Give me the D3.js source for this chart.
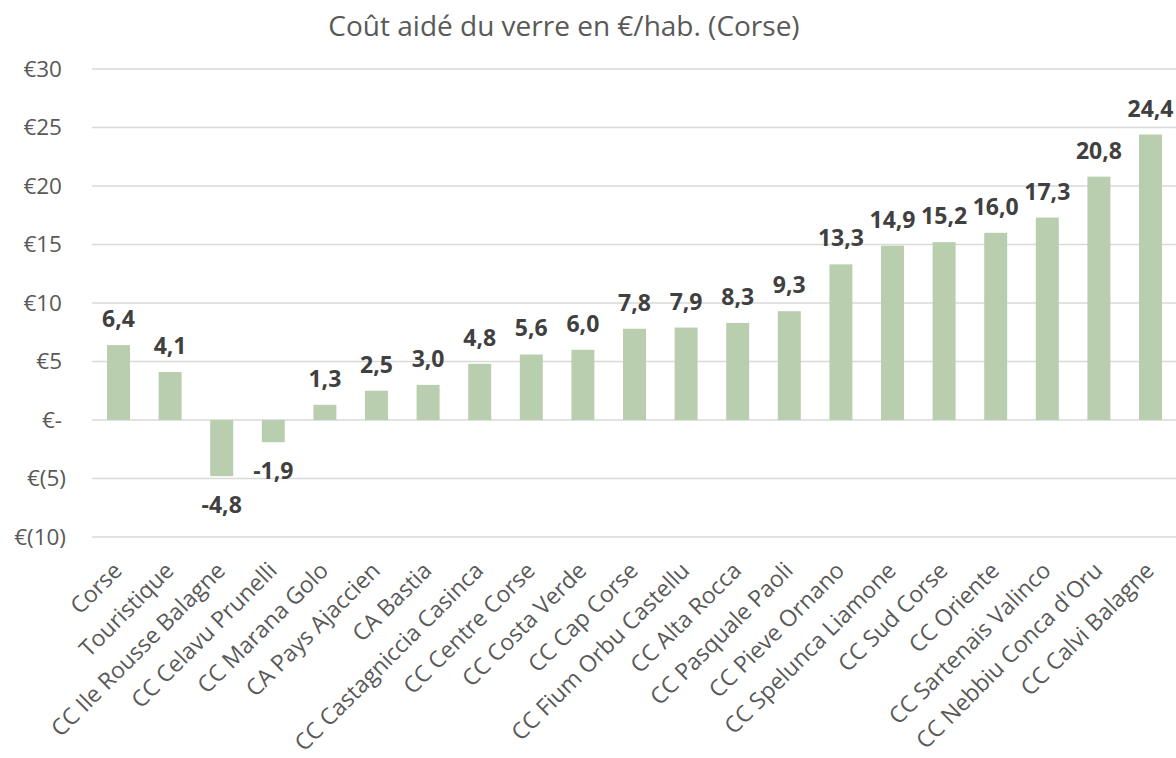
<!DOCTYPE html>
<html>
<head>
<meta charset="utf-8">
<script src="https://cdn.jsdelivr.net/npm/d3@7"></script>
<style>
  body { margin: 0; background: #fff; }
  svg text { font-family: "Open Sans", sans-serif; }
</style>
</head>
<body>
<div id="chart"></div>
<script>
const categories = [
    "Corse", "Touristique", "CC Ile Rousse Balagne", "CC Celavu Prunelli",
    "CC Marana Golo", "CA Pays Ajaccien", "CA Bastia", "CC Castagniccia Casinca",
    "CC Centre Corse", "CC Costa Verde", "CC Cap Corse", "CC Fium Orbu Castellu",
    "CC Alta Rocca", "CC Pasquale Paoli", "CC Pieve Ornano", "CC Spelunca Liamone",
    "CC Sud Corse", "CC Oriente", "CC Sartenais Valinco", "CC Nebbiu Conca d'Oru",
    "CC Calvi Balagne"
];
const values = [6.4, 4.1, -4.8, -1.9, 1.3, 2.5, 3.0, 4.8, 5.6, 6.0, 7.8, 7.9, 8.3, 9.3,
    13.3, 14.9, 15.2, 16.0, 17.3, 20.8, 24.4];
const yTicks = [-10, -5, 0, 5, 10, 15, 20, 25, 30];
const title = "Coût aidé du verre en €/hab. (Corse)";

const width = 1176;
const height = 758;

const data = categories.map((c, i) => ({ name: c, value: values[i] }));

const svg = d3.select("#chart").append("svg")
    .attr("width", width)
    .attr("height", height);

const xScale = d3.scaleBand()
    .domain(categories)
    .range([92.7, 1176.3])
    .paddingInner(0.555)
    .paddingOuter(0.2775);

const yScale = d3.scaleLinear()
    .domain([-10, 30])
    .range([537, 69]);

// euro format like the spreadsheet: €5, €(5), €-
function euro(v) {
    if (v === 0) return "€-";
    if (v < 0) return "€(" + Math.abs(v) + ")";
    return "€" + v;
}

// grid
svg.append("g")
    .selectAll("line")
    .data(yTicks)
    .enter().append("line")
    .attr("x1", 92)
    .attr("x2", width)
    .attr("y1", d => yScale(d))
    .attr("y2", d => yScale(d))
    .attr("stroke", "#d9d9d9")
    .attr("stroke-width", 1.5);

const yAxis = svg.append("g")
    .attr("transform", "translate(62,0)")
    .call(d3.axisLeft(yScale).tickValues(yTicks).tickFormat(euro).tickSize(0));
yAxis.select(".domain").remove();
yAxis.selectAll("text")
    .attr("x", d => d < 0 ? 4 : 0)
    .style("font-family", "'Open Sans', sans-serif")
    .style("font-size", "22.5px")
    .attr("fill", "#595959");

// bars
svg.selectAll("rect.bar")
    .data(data)
    .enter().append("rect")
    .attr("class", "bar")
    .attr("x", d => xScale(d.name))
    .attr("width", xScale.bandwidth())
    .attr("y", d => yScale(Math.max(0, d.value)))
    .attr("height", d => Math.abs(yScale(d.value) - yScale(0)))
    .attr("fill", "#b9cdaf");

// value labels
svg.selectAll("text.val")
    .data(data)
    .enter().append("text")
    .attr("class", "val")
    .attr("x", d => xScale(d.name) + xScale.bandwidth() / 2)
    .attr("y", d => d.value >= 0 ? yScale(d.value) - 18 : yScale(d.value) + 37)
    .attr("text-anchor", "middle")
    .style("font-size", "23px")
    .style("font-weight", "bold")
    .attr("fill", "#404040")
    .text(d => d.value.toFixed(1).replace(".", ","));

// category labels
svg.selectAll("text.cat")
    .data(data)
    .enter().append("text")
    .attr("class", "cat")
    .attr("transform", d => `translate(${xScale(d.name) + xScale.bandwidth() / 2 + 5},572) rotate(-45)`)
    .attr("text-anchor", "end")
    .style("font-size", "23px")
    .attr("fill", "#595959")
    .text(d => d.name);

// title
svg.append("text")
    .attr("x", 564)
    .attr("y", 36)
    .attr("text-anchor", "middle")
    .style("font-size", "28px")
    .attr("fill", "#595959")
    .text(title);
</script>
</body>
</html>
